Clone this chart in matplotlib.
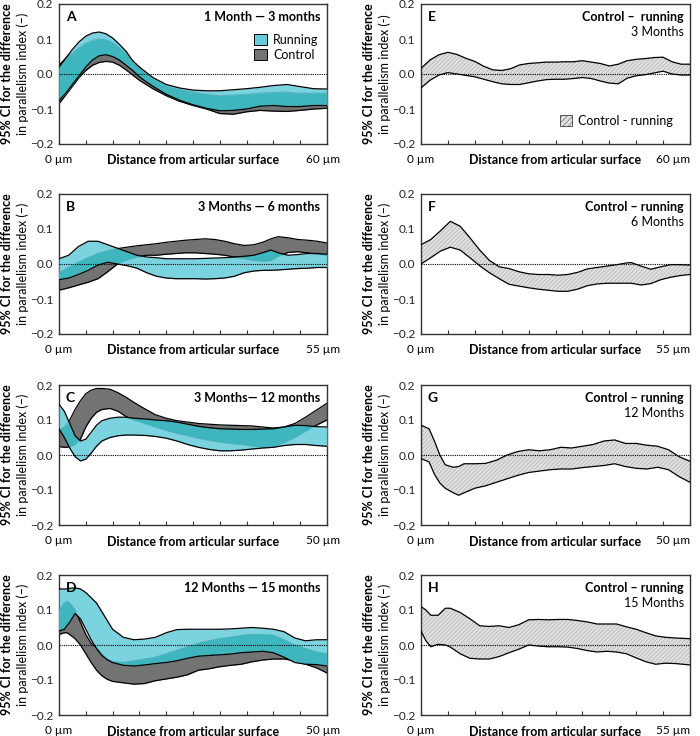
import numpy as np
import matplotlib
matplotlib.use('Agg')
import matplotlib.pyplot as plt
from matplotlib.patches import Patch

plt.rcParams['font.family'] = ['Lato', 'DejaVu Sans']
plt.rcParams['hatch.linewidth'] = 0.4

# ---- left column: running vs control CI bands (A-D)
xA = [0, 1.5, 3, 4.5, 6, 7.5, 9, 10.5, 12, 13.5, 15, 16.5, 18, 19.5, 21, 24, 27, 30, 33, 36, 39, 42, 45, 48, 51, 54, 57, 60]
runA_hi = [0.02, 0.045, 0.07, 0.092, 0.108, 0.117, 0.12, 0.115, 0.103, 0.085, 0.065, 0.038, 0.02, 0.005, -0.01, -0.03, -0.04, -0.046, -0.048, -0.048, -0.045, -0.042, -0.038, -0.033, -0.03, -0.036, -0.042, -0.043]
runA_lo = [-0.075, -0.055, -0.03, -0.005, 0.02, 0.04, 0.052, 0.055, 0.05, 0.04, 0.025, 0.01, -0.008, -0.022, -0.035, -0.058, -0.075, -0.088, -0.098, -0.105, -0.104, -0.1, -0.092, -0.09, -0.093, -0.093, -0.09, -0.09]
conA_hi = [0.025, 0.045, 0.06, 0.075, 0.088, 0.096, 0.1, 0.098, 0.09, 0.075, 0.058, 0.035, 0.018, 0.0, -0.015, -0.035, -0.045, -0.052, -0.058, -0.062, -0.06, -0.058, -0.055, -0.053, -0.052, -0.055, -0.055, -0.055]
conA_lo = [-0.085, -0.06, -0.035, -0.01, 0.01, 0.025, 0.033, 0.036, 0.034, 0.025, 0.012, -0.003, -0.018, -0.03, -0.042, -0.062, -0.078, -0.09, -0.1, -0.113, -0.115, -0.108, -0.104, -0.106, -0.107, -0.104, -0.1, -0.098]

xB = [0, 2, 4, 6, 8, 10, 12, 14, 16, 18, 20, 22, 24, 26, 28, 30, 32, 34, 36, 38, 40, 42, 43.5, 45, 47, 49, 51, 53, 55]
runB_hi = [0.015, 0.025, 0.05, 0.065, 0.065, 0.055, 0.045, 0.035, 0.025, 0.02, 0.018, 0.015, 0.015, 0.015, 0.015, 0.016, 0.017, 0.018, 0.02, 0.022, 0.025, 0.033, 0.04, 0.032, 0.025, 0.027, 0.03, 0.03, 0.028]
runB_lo = [-0.045, -0.04, -0.03, -0.018, -0.003, 0.005, 0.0, -0.005, -0.012, -0.025, -0.035, -0.04, -0.042, -0.042, -0.042, -0.043, -0.042, -0.04, -0.035, -0.025, -0.02, -0.018, -0.018, -0.017, -0.015, -0.013, -0.012, -0.01, -0.01]
conB_hi = [-0.025, -0.01, 0.005, 0.018, 0.03, 0.038, 0.044, 0.048, 0.052, 0.055, 0.058, 0.062, 0.065, 0.068, 0.07, 0.072, 0.07, 0.065, 0.058, 0.053, 0.055, 0.063, 0.072, 0.078, 0.075, 0.07, 0.068, 0.065, 0.06]
conB_lo = [-0.075, -0.068, -0.06, -0.052, -0.042, -0.022, 0.0, 0.012, 0.02, 0.025, 0.025, 0.028, 0.03, 0.032, 0.032, 0.03, 0.028, 0.025, 0.02, 0.015, 0.01, 0.008, 0.01, 0.022, 0.033, 0.035, 0.032, 0.028, 0.025]

xC = [0, 1, 2, 3, 4, 5, 6, 7, 8, 9.5, 11, 12.5, 14, 16, 18, 20, 22, 24, 26, 28, 30, 32, 34, 36, 38, 40, 42, 44, 46, 48, 50]
runC_hi = [0.145, 0.125, 0.09, 0.055, 0.04, 0.045, 0.065, 0.085, 0.098, 0.105, 0.108, 0.108, 0.105, 0.103, 0.1, 0.098, 0.094, 0.088, 0.082, 0.078, 0.075, 0.074, 0.073, 0.073, 0.074, 0.075, 0.08, 0.085, 0.084, 0.081, 0.08]
runC_lo = [0.075, 0.05, 0.02, -0.005, -0.017, -0.012, 0.005, 0.025, 0.04, 0.05, 0.055, 0.057, 0.057, 0.056, 0.053, 0.048, 0.04, 0.03, 0.022, 0.016, 0.012, 0.012, 0.014, 0.017, 0.02, 0.022, 0.027, 0.03, 0.03, 0.027, 0.025]
conC_hi = [0.07, 0.08, 0.1, 0.13, 0.155, 0.175, 0.185, 0.19, 0.19, 0.188, 0.178, 0.165, 0.15, 0.132, 0.115, 0.105, 0.098, 0.094, 0.09, 0.088, 0.086, 0.085, 0.084, 0.083, 0.08, 0.077, 0.08, 0.09, 0.108, 0.128, 0.148]
conC_lo = [0.024, 0.022, 0.023, 0.03, 0.045, 0.08, 0.105, 0.122, 0.13, 0.133, 0.125, 0.11, 0.1, 0.09, 0.08, 0.07, 0.062, 0.055, 0.048, 0.042, 0.037, 0.033, 0.03, 0.026, 0.022, 0.025, 0.035, 0.05, 0.068, 0.085, 0.1]

xD = [0, 1, 1.5, 2, 3, 4, 5, 6, 7, 8, 9, 10, 12, 14, 16, 18, 20, 22, 24, 26, 28, 30, 32, 34, 36, 38, 40, 42, 44, 46, 48, 50]
runD_hi = [0.16, 0.16, 0.16, 0.162, 0.163, 0.16, 0.15, 0.135, 0.12, 0.095, 0.07, 0.045, 0.022, 0.015, 0.017, 0.022, 0.035, 0.044, 0.045, 0.045, 0.045, 0.045, 0.046, 0.048, 0.05, 0.048, 0.045, 0.038, 0.02, 0.012, 0.015, 0.015]
runD_lo = [0.04, 0.045, 0.055, 0.065, 0.09, 0.075, 0.045, 0.015, -0.01, -0.03, -0.042, -0.05, -0.058, -0.06, -0.057, -0.053, -0.05, -0.045, -0.038, -0.032, -0.03, -0.028, -0.026, -0.022, -0.02, -0.018, -0.022, -0.035, -0.05, -0.055, -0.056, -0.06]
conD_hi = [0.1, 0.12, 0.125, 0.12, 0.1, 0.065, 0.03, 0.005, -0.008, -0.025, -0.04, -0.048, -0.05, -0.045, -0.04, -0.035, -0.025, -0.015, -0.005, 0.005, 0.012, 0.018, 0.022, 0.027, 0.03, 0.03, 0.028, 0.015, 0.0, -0.01, -0.02, -0.025]
conD_lo = [0.03, 0.035, 0.035, 0.03, 0.018, 0.0, -0.025, -0.05, -0.072, -0.088, -0.098, -0.104, -0.108, -0.112, -0.11, -0.102, -0.097, -0.092, -0.085, -0.072, -0.068, -0.062, -0.058, -0.055, -0.048, -0.043, -0.04, -0.04, -0.045, -0.055, -0.065, -0.08]

# ---- right column: control - running difference (E-H)
xE = [0, 2, 4, 6, 8, 10, 12, 14, 16, 18, 20, 22, 24, 26, 28, 30, 32, 34, 36, 38, 40, 42, 44, 46, 48, 50, 52, 54, 56, 58, 60]
difE_hi = [0.016, 0.04, 0.055, 0.062, 0.056, 0.045, 0.036, 0.022, 0.012, 0.01, 0.015, 0.026, 0.03, 0.032, 0.034, 0.034, 0.035, 0.035, 0.038, 0.034, 0.03, 0.023, 0.028, 0.038, 0.042, 0.044, 0.047, 0.048, 0.035, 0.028, 0.028]
difE_lo = [-0.04, -0.018, -0.003, 0.004, 0.0, -0.004, -0.008, -0.015, -0.022, -0.028, -0.03, -0.03, -0.025, -0.02, -0.016, -0.015, -0.015, -0.013, -0.01, -0.013, -0.02, -0.026, -0.028, -0.012, -0.005, -0.002, 0.003, 0.008, 0.0, -0.003, -0.003]

xF = [0, 2, 4, 6, 8, 10, 12, 14, 16, 18, 20, 22, 24, 26, 28, 30, 32, 34, 36, 38, 40, 42, 43, 45, 47, 49, 51, 53, 55]
difF_hi = [0.055, 0.07, 0.095, 0.122, 0.108, 0.075, 0.04, 0.01, -0.008, -0.013, -0.022, -0.028, -0.03, -0.03, -0.032, -0.03, -0.024, -0.014, -0.01, -0.006, -0.002, 0.003, 0.004, -0.006, -0.015, -0.008, -0.002, -0.002, -0.003]
difF_lo = [0.0, 0.018, 0.037, 0.048, 0.04, 0.018, -0.005, -0.025, -0.042, -0.058, -0.063, -0.068, -0.072, -0.075, -0.078, -0.078, -0.072, -0.062, -0.057, -0.055, -0.055, -0.055, -0.055, -0.06, -0.056, -0.045, -0.038, -0.033, -0.03]

xG = [0, 1.5, 2.5, 3.5, 4.5, 6, 7, 8, 10, 12, 14, 16, 18, 20, 22, 24, 26, 28, 30, 32, 34, 36, 38, 40, 42, 44, 46, 48, 50]
difG_hi = [0.085, 0.075, 0.04, 0.0, -0.028, -0.035, -0.033, -0.025, -0.025, -0.024, -0.015, 0.0, 0.01, 0.015, 0.012, 0.015, 0.022, 0.02, 0.025, 0.03, 0.04, 0.043, 0.033, 0.033, 0.028, 0.025, 0.015, -0.005, -0.018]
difG_lo = [-0.01, -0.02, -0.055, -0.08, -0.095, -0.108, -0.115, -0.108, -0.095, -0.088, -0.078, -0.068, -0.058, -0.05, -0.046, -0.042, -0.04, -0.04, -0.036, -0.033, -0.03, -0.025, -0.033, -0.038, -0.04, -0.035, -0.042, -0.062, -0.078]

xH = [0, 1, 2, 3.5, 5, 6, 8, 10, 12, 14, 16, 18, 20, 22, 24, 26, 28, 30, 32, 34, 36, 38, 40, 42, 44, 46, 48, 50, 52, 55]
difH_hi = [0.11, 0.1, 0.085, 0.085, 0.105, 0.105, 0.093, 0.075, 0.055, 0.053, 0.055, 0.05, 0.058, 0.072, 0.073, 0.072, 0.073, 0.073, 0.07, 0.066, 0.06, 0.06, 0.06, 0.052, 0.045, 0.035, 0.026, 0.022, 0.02, 0.018]
difH_lo = [0.04, 0.012, -0.005, 0.002, 0.0, -0.006, -0.025, -0.038, -0.04, -0.04, -0.033, -0.022, -0.012, 0.0, -0.003, -0.005, -0.005, -0.006, -0.01, -0.016, -0.02, -0.018, -0.02, -0.025, -0.037, -0.048, -0.055, -0.052, -0.053, -0.057]

CYAN, TEAL, GREY, HATCHFILL = '#68cddb', '#3bb4bc', '#737373', '#e0e0e0'

def style(ax, xmax, letter, ylab_dash='\u2013', right_col=False):
    ax.set_xlim(0, xmax); ax.set_ylim(-0.2, 0.2)
    ax.axhline(0, color='k', ls=(0, (1, 1)), lw=0.8, zorder=6)
    ax.set_xticks(np.linspace(0, xmax, 11)); ax.set_xticklabels([])
    ax.tick_params(axis='x', direction='in', length=3, width=0.8, color='#333333')
    ax.set_yticks([-0.2, -0.1, 0, 0.1, 0.2])
    ax.set_yticklabels(['\u22120.2', '\u22120.1', '0.0', '0.1', '0.2'], fontsize=8.5, color='#222222')
    ax.tick_params(axis='y', length=0, pad=4)
    for s in ax.spines.values():
        s.set_color('#333333'); s.set_linewidth(1.0)
    ax.text(0, -0.07, '0 \u00b5m', transform=ax.transAxes, ha='center', va='top', fontsize=8.5)
    if right_col:
        ax.text(1.0, -0.07, f'{xmax} \u00b5m', transform=ax.transAxes, ha='right', va='top', fontsize=8.5)
    else:
        ax.text(0.985, -0.07, f'{xmax} \u00b5m', transform=ax.transAxes, ha='center', va='top', fontsize=8.5)
    ax.text(0.5, -0.075, 'Distance from articular surface', transform=ax.transAxes,
            ha='center', va='top', fontsize=9, fontweight='bold')
    ax.text(-0.195, 0.5, '95% CI for the difference', transform=ax.transAxes, rotation=90,
            ha='center', va='center', fontsize=9, fontweight='bold')
    ax.text(-0.135, 0.5, f'in parallelism index ({ylab_dash})', transform=ax.transAxes, rotation=90,
            ha='center', va='center', fontsize=9)
    ax.text(0.025, 0.905, letter, transform=ax.transAxes, ha='left', va='center',
            fontsize=10, fontweight='bold', zorder=8)

def pair(ax, x, rlo, rhi, clo, chi):
    x = np.array(x); rlo, rhi, clo, chi = map(np.array, (rlo, rhi, clo, chi))
    ax.fill_between(x, clo, chi, color=GREY, lw=0, zorder=1)
    ax.plot(x, clo, color='k', lw=0.9, zorder=2); ax.plot(x, chi, color='k', lw=0.9, zorder=2)
    ax.fill_between(x, rlo, rhi, color=CYAN, alpha=0.88, lw=0, zorder=3)
    lo, hi = np.maximum(rlo, clo), np.minimum(rhi, chi)
    ax.fill_between(x, lo, hi, where=hi > lo, interpolate=True, color=TEAL, alpha=0.9, lw=0, zorder=4)
    ax.plot(x, rlo, color='k', lw=0.9, zorder=5); ax.plot(x, rhi, color='k', lw=0.9, zorder=5)

def diff(ax, x, lo, hi):
    ax.fill_between(x, lo, hi, facecolor=HATCHFILL, edgecolor='#a8a8a8', hatch='////////', lw=0, zorder=1)
    ax.plot(x, lo, color='k', lw=0.9, zorder=5); ax.plot(x, hi, color='k', lw=0.9, zorder=5)

fig = plt.figure(figsize=(7, 7.36), dpi=100)
W, H = 700, 736
tops = [4, 194, 385, 575]
def axes_at(xl, xr, top, h=140):
    return fig.add_axes([xl / W, 1 - (top + h) / H, (xr - xl) / W, h / H])

left = [
    ('A', xA, 60, runA_lo, runA_hi, conA_lo, conA_hi, '1 Month \u2014 3 months'),
    ('B', xB, 55, runB_lo, runB_hi, conB_lo, conB_hi, '3 Months \u2014 6 months'),
    ('C', xC, 50, runC_lo, runC_hi, conC_lo, conC_hi, '3 Months\u2014 12 months'),
    ('D', xD, 50, runD_lo, runD_hi, conD_lo, conD_hi, '12 Months \u2014 15 months'),
]
for top, (let, x, xm, rl, rh, cl, ch, title) in zip(tops, left):
    ax = axes_at(59, 327, top)
    pair(ax, x, rl, rh, cl, ch)
    style(ax, xm, let)
    ax.text(0.975, 0.905, title, transform=ax.transAxes, ha='right', va='center',
            fontsize=9, fontweight='bold', zorder=8)
    if let == 'A':
        hs = [Patch(facecolor=CYAN, edgecolor='k', lw=0.7), Patch(facecolor=GREY, edgecolor='k', lw=0.7)]
        ax.legend(hs, ['Running', 'Control'], loc='upper right', bbox_to_anchor=(1.0, 0.85),
                  frameon=False, fontsize=9, handlelength=1.0, handleheight=1.0,
                  handletextpad=0.5, labelspacing=0.25, borderpad=0.2)

right = [
    ('E', xE, 60, difE_lo, difE_hi, 'Control \u2013  running', '3 Months', '-'),
    ('F', xF, 55, difF_lo, difF_hi, 'Control \u2013 running', '6 Months', '\u2013'),
    ('G', xG, 50, difG_lo, difG_hi, 'Control \u2013 running', '12 Months', '\u2013'),
    ('H', xH, 55, difH_lo, difH_hi, 'Control \u2013 running', '15 Months', '\u2013'),
]
for top, (let, x, xm, lo, hi, title, sub, dash) in zip(tops, right):
    ax = axes_at(421, 690, top)
    diff(ax, x, lo, hi)
    style(ax, xm, let, dash, right_col=True)
    ax.text(0.978, 0.905, title, transform=ax.transAxes, ha='right', va='center',
            fontsize=9, fontweight='bold', zorder=8)
    ax.text(0.978, 0.8, sub, transform=ax.transAxes, ha='right', va='center', fontsize=9, zorder=8)
    if let == 'E':
        hs = [Patch(facecolor=HATCHFILL, edgecolor='#555555', hatch='//////', lw=0.7)]
        ax.legend(hs, ['Control - running'], loc='lower right', bbox_to_anchor=(0.98, 0.04),
                  frameon=False, fontsize=9, handlelength=1.0, handleheight=1.0, handletextpad=0.5)

fig.savefig('out.png', dpi=100)
